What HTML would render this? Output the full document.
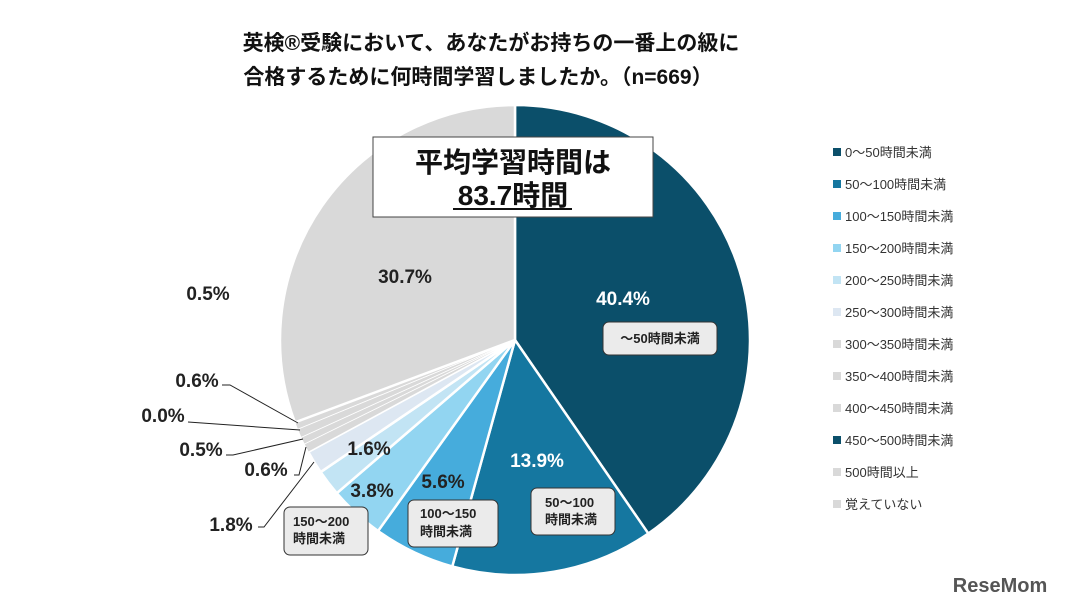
<!DOCTYPE html>
<html><head><meta charset="utf-8"><style>
body{margin:0;background:#fff;}
svg text{font-family:"Liberation Sans","Noto Sans CJK JP",sans-serif;}
</style></head><body>
<svg id="s" width="1090" height="610" xmlns="http://www.w3.org/2000/svg">
<rect width="1090" height="610" fill="#fff"/>
<text x="491" y="50" text-anchor="middle" font-size="21" font-weight="bold" fill="#111">英検®受験において、あなたがお持ちの一番上の級に</text>
<text x="478" y="84" text-anchor="middle" font-size="21" font-weight="bold" fill="#111">合格するために何時間学習しましたか。（n=669）</text>
<g id="pie"></g>
<g stroke="#222" stroke-width="1" fill="none">
<polyline points="222,385 230,385 298,423"/>
<polyline points="188,422 300,430"/>
<polyline points="226,455 233,455 303,439"/>
<polyline points="294,475 299,475 306,447"/>
<polyline points="258,527 264,527 314,462"/>
</g>
<rect x="373" y="137" width="280" height="80" fill="#fff" stroke="#444" stroke-width="1"/>
<text x="513" y="172" text-anchor="middle" font-size="28" font-weight="bold" fill="#111">平均学習時間は</text>
<text x="513" y="205" text-anchor="middle" font-size="28" font-weight="bold" fill="#111">83.7時間</text>
<line x1="453" y1="209" x2="572" y2="209" stroke="#111" stroke-width="2"/>
<g font-weight="bold" font-size="19" fill="#222">
<text x="623" y="305" text-anchor="middle" fill="#fff">40.4%</text>
<text x="537" y="467" text-anchor="middle" fill="#fff">13.9%</text>
<text x="443" y="488" text-anchor="middle">5.6%</text>
<text x="372" y="497" text-anchor="middle">3.8%</text>
<text x="369" y="455" text-anchor="middle">1.6%</text>
<text x="405" y="283" text-anchor="middle">30.7%</text>
<text x="208" y="300" text-anchor="middle">0.5%</text>
<text x="197" y="387" text-anchor="middle">0.6%</text>
<text x="163" y="422" text-anchor="middle">0.0%</text>
<text x="201" y="456" text-anchor="middle">0.5%</text>
<text x="266" y="476" text-anchor="middle">0.6%</text>
<text x="231" y="531" text-anchor="middle">1.8%</text>
</g>
<g stroke="#333" stroke-width="1" fill="#ebebeb">
<rect x="603" y="322" width="114" height="33" rx="6"/>
<rect x="531" y="488" width="84" height="47" rx="6"/>
<rect x="408" y="500" width="90" height="47" rx="6"/>
<rect x="284" y="507" width="84" height="48" rx="6"/>
</g>
<g font-weight="bold" font-size="13" fill="#222">
<text x="660" y="343" text-anchor="middle">～50時間未満</text>
<text x="545" y="507">50～100</text><text x="545" y="524">時間未満</text>
<text x="420" y="518">100～150</text><text x="420" y="536">時間未満</text>
<text x="293" y="526">150～200</text><text x="293" y="543">時間未満</text>
</g>
<g id="leg" font-size="13" fill="#333"></g>
<text x="1000" y="592" text-anchor="middle" font-size="20" font-weight="bold" fill="#555">ReseMom</text>
</svg>
<script>
var data=[40.4,13.9,5.6,3.8,1.8,1.6,0.6,0.5,0.0,0.6,0.5,30.7];
var cols=["#0b4f6a","#1577a0","#46acdc","#92d5f1","#c2e4f4","#dde7f2","#d9d9d9","#d9d9d9","#d9d9d9","#0b4f6a","#d9d9d9","#d9d9d9"];
var pcols=cols.slice();pcols[9]="#d9d9d9";
var names=["0～50時間未満","50～100時間未満","100～150時間未満","150～200時間未満","200～250時間未満","250～300時間未満","300～350時間未満","350～400時間未満","400～450時間未満","450～500時間未満","500時間以上","覚えていない"];
var cx=515,cy=340,r=235,a=0,h="";
for(var i=0;i<data.length;i++){
 var a2=a+data[i]/100*2*Math.PI;
 if(data[i]>0){
 var x1=cx+r*Math.sin(a),y1=cy-r*Math.cos(a),x2=cx+r*Math.sin(a2),y2=cy-r*Math.cos(a2);
 h+='<path d="M'+cx+','+cy+' L'+x1+','+y1+' A'+r+','+r+' 0 '+(a2-a>Math.PI?1:0)+' 1 '+x2+','+y2+' Z" fill="'+pcols[i]+'" stroke="#fff" stroke-width="'+(i>=6&&i<=10?0.8:2.5)+'"/>';}
 a=a2;}
document.getElementById("pie").innerHTML=h;
var l="";
for(var i=0;i<12;i++){var y=152+i*32;
 l+='<rect x="833" y="'+(y-4)+'" width="8" height="8" fill="'+cols[i]+'"/><text x="845" y="'+(y+5)+'">'+names[i]+'</text>';}
document.getElementById("leg").innerHTML=l;
</script>
</body></html>
